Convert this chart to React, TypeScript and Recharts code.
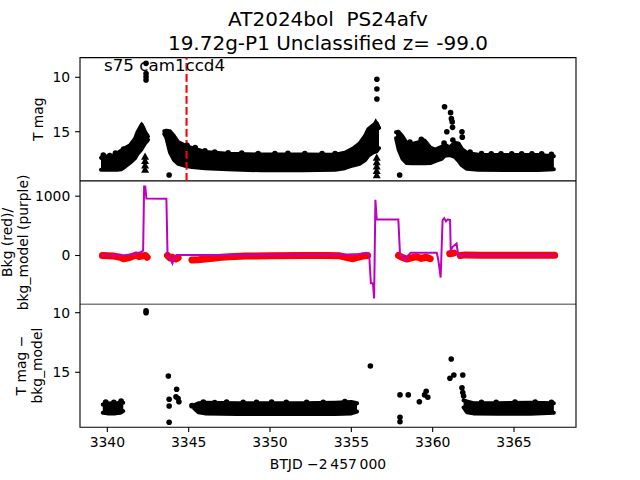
import React from 'react';
import { ComposedChart, Scatter, Area, Line, XAxis, YAxis, ReferenceLine, ReferenceArea } from 'recharts';

// ---------------- data ----------------
const xTicks = [3340, 3345, 3350, 3355, 3360, 3365];
const topYTicks = [10, 15];
const midYTicks = [0, 1000];
const botYTicks = [10, 15];

const xDomain: [number, number] = [3338.32, 3368.81];
const topDomain: [number, number] = [8.19, 19.51];
const midDomain: [number, number] = [-821, 1256];
const botDomain: [number, number] = [9.27, 19.61];

const eventDate = 3344.87;

// dense photometry envelopes: [BTJD, bright edge mag, faint edge mag]
const topBandA: [number, number, number][] = [
  [3339.61, 17.4, 18.5], [3339.8, 17.25, 18.5], [3340.1, 17.3, 18.5], [3340.35, 17.2, 18.5],
  [3340.6, 17.0, 18.5], [3340.85, 16.75, 18.45], [3341.1, 16.5, 18.2], [3341.4, 16.25, 17.85],
  [3341.7, 15.65, 17.45], [3341.85, 15.05, 17.05], [3342.11, 14.35, 16.6], [3342.3, 14.95, 16.1],
  [3342.5, 15.45, 15.75],
];
const topBandB: [number, number, number][] = [
  [3343.5, 14.95, 15.2], [3343.62, 14.9, 15.5], [3343.85, 14.95, 16.9], [3344.1, 15.4, 17.6],
  [3344.35, 15.95, 17.95], [3344.7, 16.2, 18.1], [3345.2, 16.5, 18.25], [3346.0, 16.86, 18.35],
  [3347.4, 17.02, 18.45], [3349.5, 17.1, 18.55], [3352.0, 17.1, 18.55], [3354.0, 17.12, 18.5],
  [3354.6, 16.93, 18.35], [3355.1, 16.55, 18.1], [3355.5, 16.1, 17.95], [3355.85, 15.35, 17.6],
  [3356.05, 14.75, 17.2], [3356.35, 14.4, 16.9], [3356.55, 14.2, 16.8], [3356.7, 14.65, 16.5],
];
const topBandC: [number, number, number][] = [
  [3357.75, 15.05, 15.6], [3357.9, 15.0, 16.6], [3358.15, 15.45, 17.5], [3358.4, 16.05, 17.88],
  [3358.7, 16.15, 17.9], [3359.2, 15.95, 17.9], [3359.5, 15.8, 17.9], [3359.85, 16.45, 17.88],
  [3360.15, 16.65, 17.7], [3360.55, 16.4, 17.5], [3360.75, 16.2, 17.2], [3361.05, 16.45, 17.15],
  [3361.35, 16.0, 17.3], [3361.6, 16.1, 17.7], [3361.8, 16.6, 18.1], [3362.1, 16.95, 18.4],
  [3362.8, 17.12, 18.5], [3364.5, 17.15, 18.52], [3366.5, 17.15, 18.52], [3367.45, 17.25, 18.45],
];
// individual points sticking out of the upper edge of the dense bands
const topEdgePts: [number, number][] = [
  [3339.75, 17.15], [3340.15, 17.2], [3340.5, 16.95], [3341.0, 16.6],
  [3344.9, 16.25], [3345.4, 16.45], [3346.0, 16.76], [3346.6, 16.88], [3347.43, 16.93], [3348.26, 16.97],
  [3349.27, 17.0], [3350.3, 17.0], [3351.1, 16.98], [3352.14, 17.0], [3353.2, 17.0], [3354.0, 17.0],
  [3358.6, 15.95], [3359.3, 15.7], [3360.7, 16.05],
  [3362.3, 16.88], [3363.0, 17.0], [3363.6, 17.02], [3364.2, 17.03], [3364.86, 17.03], [3365.47, 17.03],
  [3366.1, 17.03], [3366.7, 17.03], [3367.3, 17.08],
];
const topDots: [number, number][] = [
  [3342.38, 8.72], [3342.38, 9.65], [3342.38, 9.95], [3342.38, 10.25], [3343.8, 18.98],
  [3356.57, 10.18], [3356.57, 11.08], [3356.57, 12.0], [3357.97, 18.98],
  [3360.73, 12.7], [3361.1, 13.25], [3361.15, 13.8], [3361.2, 14.1], [3361.22, 14.6],
  [3360.87, 15.0], [3361.24, 15.76], [3361.8, 15.0], [3361.82, 15.5],
];
const topLimits: [number, number][] = [
  [3342.12, 14.45], [3342.2, 14.8], [3342.32, 17.3], [3342.32, 17.7], [3342.32, 18.1], [3342.32, 18.5],
  [3356.5, 14.15], [3356.6, 14.45], [3356.56, 17.4], [3356.56, 17.8], [3356.56, 18.2], [3356.56, 18.6], [3356.56, 19.0],
];

// background flux (red points) and background model (purple)
const bkgFlux: [number, number | null][] = [
  [3339.7, 0], [3340.0, -5], [3340.4, -10], [3340.8, -30], [3341.0, -55], [3341.3, -40], [3341.6, -10],
  [3341.8, 10], [3341.95, -20], [3342.1, -10], [3342.35, 0], [3342.45, -30],
  [3342.9, null],
  [3343.7, 0], [3343.85, -40], [3344.0, -30], [3344.2, -60], [3344.35, -40],
  [3344.8, null],
  [3345.2, -75], [3345.6, -70], [3346.0, -60], [3346.5, -45], [3347.0, -30], [3347.5, -20], [3348.5, -10],
  [3350.0, -5], [3352.0, 0], [3353.5, 0], [3354.3, -5], [3354.8, -40], [3355.1, -55], [3355.4, -30],
  [3355.7, -10], [3356.0, 0],
  [3357.0, null],
  [3357.9, 0], [3358.1, -30], [3358.4, -60], [3358.7, -40], [3359.0, -20], [3359.3, -50], [3359.6, -30], [3359.85, -55],
  [3360.5, null],
  [3361.05, 30], [3361.3, 40],
  [3361.5, null],
  [3361.7, 0], [3362.0, 10], [3363.0, 5], [3364.0, 5], [3365.0, 5], [3366.0, 5], [3367.0, 5], [3367.5, 5],
];
const bkgModel: [number, number][] = [
  [3339.7, 0], [3340.5, 0], [3341.0, 5], [3341.6, 20], [3342.0, 50], [3342.2, 80], [3342.26, 1165],
  [3342.33, 1165], [3342.4, 960], [3343.63, 955], [3343.7, 20], [3343.85, -50], [3344.0, -135],
  [3344.1, -40], [3344.25, 10], [3346.0, 10], [3350.0, 5], [3354.0, 10], [3355.5, 25], [3355.94, 45],
  [3356.1, 0], [3356.2, -470], [3356.33, -470], [3356.4, -725], [3356.48, 940], [3356.56, 607],
  [3357.89, 605], [3357.99, 34], [3358.3, -80], [3358.5, 0], [3358.65, 45], [3360.25, 45],
  [3360.35, -80], [3360.49, -371], [3360.61, 595], [3360.71, 628], [3360.82, 575], [3360.92, 607],
  [3361.07, 600], [3361.11, 89], [3361.23, 146], [3361.47, 202], [3361.57, 0], [3362.0, 0], [3367.5, 0],
];

// T mag - bkg_model
const botBand1: [number, number, number][] = [
  [3339.72, 17.7, 18.4], [3340.0, 17.6, 18.45], [3340.5, 17.65, 18.45], [3340.8, 17.5, 18.4], [3340.98, 17.55, 18.25],
];
const botBand2: [number, number, number][] = [
  [3345.35, 17.75, 18.05], [3345.6, 17.6, 18.35], [3346.0, 17.55, 18.45], [3348.0, 17.6, 18.5],
  [3350.0, 17.6, 18.5], [3352.0, 17.6, 18.5], [3354.0, 17.55, 18.5], [3355.0, 17.5, 18.45], [3355.35, 17.6, 18.3],
];
const botBand3: [number, number, number][] = [
  [3361.9, 17.35, 17.95], [3362.1, 17.45, 18.35], [3362.5, 17.6, 18.45], [3364.0, 17.6, 18.48],
  [3366.0, 17.55, 18.48], [3367.45, 17.6, 18.4],
];
const botEdgePts: [number, number][] = [
  [3339.9, 17.5], [3340.4, 17.52], [3340.85, 17.42],
  [3345.9, 17.5], [3346.6, 17.55], [3347.33, 17.5], [3348.35, 17.52], [3349.17, 17.52], [3350.1, 17.5],
  [3351.0, 17.53], [3352.25, 17.52], [3353.27, 17.52], [3354.6, 17.45],
  [3363.0, 17.52], [3363.9, 17.52], [3365.06, 17.5], [3366.3, 17.5], [3367.3, 17.52],
];
const botDots: [number, number][] = [
  [3342.38, 9.85], [3342.38, 10.0], [3343.75, 15.31], [3343.8, 17.27], [3343.8, 17.83], [3343.8, 19.2],
  [3344.26, 16.43], [3344.22, 17.05], [3344.35, 17.2], [3344.4, 17.47], [3345.2, 17.8],
  [3356.17, 14.47], [3357.99, 16.9], [3357.99, 18.78], [3357.99, 19.15], [3358.5, 16.9],
  [3359.18, 17.47], [3359.5, 16.9], [3359.6, 16.6], [3359.7, 17.1],
  [3361.14, 13.88], [3361.06, 15.5], [3361.3, 15.23], [3361.85, 15.23], [3361.8, 16.3], [3361.85, 16.7], [3361.9, 17.0],
];

// ---------------- helpers ----------------
const toBand = (a: [number, number, number][]) => a.map(([x, lo, hi]) => ({ x, r: [lo, hi] }));
const toPts = (a: [number, number | null][]) => a.map(([x, y]) => ({ x, y }));

const FONT = 'DejaVu Sans';
const BLACK = '#000000';
const RED = '#ff0000';
const PURPLE = '#bf00bf';

const dotShape = (r: number) => (p: any) => <circle cx={p.cx} cy={p.cy} r={r} fill={BLACK} />;
const triShape = (p: any) => (
  <polygon points={`${p.cx},${p.cy - 4.3} ${p.cx - 4},${p.cy + 3} ${p.cx + 4},${p.cy + 3}`} fill={BLACK} />
);

const margin = { left: 20, right: 64 };
const tickStyle = { fill: BLACK, fontSize: 13.9, fontFamily: FONT };
const tickLineStyle = { stroke: BLACK, strokeWidth: 1.1 };

const yAxisProps = (domain: [number, number], ticks: number[], reversed: boolean) => ({
  type: 'number' as const,
  domain,
  ticks,
  reversed,
  allowDataOverflow: true,
  width: 60,
  tickSize: 4.9,
  tickMargin: 4.9,
  axisLine: false,
  tick: tickStyle,
  tickLine: tickLineStyle,
  interval: 0 as const,
});

const frame = (d: [number, number]) => (
  <ReferenceArea x1={xDomain[0]} x2={xDomain[1]} y1={d[0]} y2={d[1]} fill="none" fillOpacity={0}
    stroke={BLACK} strokeWidth={1.1} strokeOpacity={1} ifOverflow="visible" />
);

const bandArea = (a: [number, number, number][], key: string) => (
  <Area key={key} data={toBand(a)} dataKey="r" type="linear" fill={BLACK} fillOpacity={1}
    stroke={BLACK} strokeWidth={4} strokeLinejoin="round" strokeLinecap="round"
    isAnimationActive={false} dot={false} activeDot={false} />
);

export default function App() {
  return (
    <div style={{ position: 'absolute', left: 0, top: 0, width: 640, height: 480, background: '#fff' }}>
      {/* Top panel */}
      <div style={{ position: 'absolute', left: 0, top: 0 }}>
        <ComposedChart width={640} height={180.8} margin={{ ...margin, top: 57.6, bottom: 0 }}>
          <XAxis dataKey="x" type="number" domain={xDomain} allowDataOverflow hide />
          <YAxis {...yAxisProps(topDomain, topYTicks, true)} />
          {bandArea(topBandA, 'a')}
          {bandArea(topBandB, 'b')}
          {bandArea(topBandC, 'c')}
          <Scatter data={toPts(topEdgePts)} dataKey="y" shape={dotShape(2.8)} isAnimationActive={false} />
          <Scatter data={toPts(topDots)} dataKey="y" shape={dotShape(2.8)} isAnimationActive={false} />
          <Scatter data={toPts(topLimits)} dataKey="y" shape={triShape} isAnimationActive={false} />
          <ReferenceLine x={eventDate} stroke={RED} strokeWidth={2.1} strokeDasharray="7.7 3.3" ifOverflow="visible" />
          {frame(topDomain)}
        </ComposedChart>
      </div>
      {/* Middle panel */}
      <div style={{ position: 'absolute', left: 0, top: 180.8 }}>
        <ComposedChart width={640} height={123.2} margin={{ ...margin, top: 0, bottom: 0 }}>
          <XAxis dataKey="x" type="number" domain={xDomain} allowDataOverflow hide />
          <YAxis {...yAxisProps(midDomain, midYTicks, false)} />
          <Line data={toPts(bkgFlux)} dataKey="y" type="linear" stroke={RED} strokeWidth={7}
            strokeLinecap="round" strokeLinejoin="round" dot={false} activeDot={false} isAnimationActive={false} />
          <Line data={toPts(bkgModel)} dataKey="y" type="linear" stroke={PURPLE} strokeWidth={2}
            dot={false} activeDot={false} isAnimationActive={false} />
          {frame(midDomain)}
        </ComposedChart>
      </div>
      {/* Bottom panel */}
      <div style={{ position: 'absolute', left: 0, top: 304 }}>
        <ComposedChart width={640} height={176} margin={{ ...margin, top: 0, bottom: 22.8 }}>
          <XAxis dataKey="x" type="number" domain={xDomain} allowDataOverflow ticks={xTicks} interval={0}
            height={30} tickSize={4.9} tickMargin={5} axisLine={false} tick={tickStyle} tickLine={tickLineStyle} />
          <YAxis {...yAxisProps(botDomain, botYTicks, true)} />
          {bandArea(botBand1, 'b1')}
          {bandArea(botBand2, 'b2')}
          {bandArea(botBand3, 'b3')}
          <Scatter data={toPts(botEdgePts)} dataKey="y" shape={dotShape(2.8)} isAnimationActive={false} />
          <Scatter data={toPts(botDots)} dataKey="y" shape={dotShape(2.8)} isAnimationActive={false} />
          {frame(botDomain)}
        </ComposedChart>
      </div>
      {/* Text overlay */}
      <svg width={640} height={480} style={{ position: 'absolute', left: 0, top: 0, pointerEvents: 'none' }}
        fontFamily={FONT}>
        <text x={328} y={26} textAnchor="middle" fontSize={20} fill={BLACK} style={{ whiteSpace: 'pre' }}>
          {'AT2024bol  PS24afv'}
        </text>
        <text x={328} y={49.5} textAnchor="middle" fontSize={20} fill={BLACK}>
          19.72g-P1 Unclassified z= -99.0
        </text>
        <text x={104} y={71} fontSize={16.7} fill={BLACK}>s75 cam1ccd4</text>
        <text x={328} y={468.5} textAnchor="middle" fontSize={13.9} fill={BLACK}>
          {'BTJD \u22122\u2009457\u2009000'}
        </text>
        <text transform="translate(43,119.2) rotate(-90)" textAnchor="middle" fontSize={13.9} fill={BLACK}>T mag</text>
        <text transform="translate(12,242.4) rotate(-90)" textAnchor="middle" fontSize={13.9} fill={BLACK}>Bkg (red)/</text>
        <text transform="translate(27.5,242.4) rotate(-90)" textAnchor="middle" fontSize={13.9} fill={BLACK}>bkg_model (purple)</text>
        <text transform="translate(26,365.6) rotate(-90)" textAnchor="middle" fontSize={13.9} fill={BLACK}>T mag −</text>
        <text transform="translate(42,365.6) rotate(-90)" textAnchor="middle" fontSize={13.9} fill={BLACK}>bkg_model</text>
      </svg>
    </div>
  );
}
